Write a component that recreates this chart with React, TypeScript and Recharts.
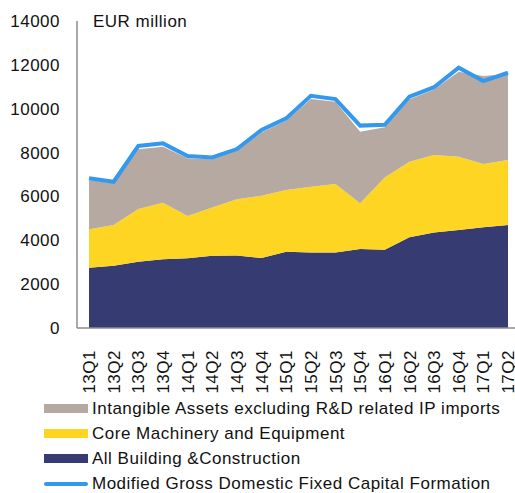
import React from 'react';
import { ComposedChart, Area, Line, XAxis, YAxis } from 'recharts';

const quarters = [
  '13Q1', '13Q2', '13Q3', '13Q4', '14Q1', '14Q2', '14Q3', '14Q4', '15Q1',
  '15Q2', '15Q3', '15Q4', '16Q1', '16Q2', '16Q3', '16Q4', '17Q1', '17Q2',
];
const building = [2750, 2840, 3020, 3130, 3180, 3300, 3310, 3190, 3480, 3440, 3440, 3600, 3570, 4140, 4360, 4470, 4590, 4700];
const machinery = [1750, 1860, 2410, 2580, 1930, 2200, 2560, 2840, 2810, 3000, 3130, 2090, 3290, 3440, 3530, 3340, 2890, 2960];
const intangible = [2250, 1900, 2720, 2560, 2630, 2190, 2220, 2890, 3170, 4000, 3750, 3260, 2290, 2850, 2990, 3880, 4010, 3920];
const modifiedGfcf = [6830, 6670, 8300, 8420, 7840, 7780, 8160, 9030, 9560, 10590, 10440, 9230, 9270, 10550, 10980, 11870, 11260, 11640];
const yTicks = [0, 2000, 4000, 6000, 8000, 10000, 12000, 14000];

const data = quarters.map((q, i) => ({
  q,
  building: building[i],
  machinery: machinery[i],
  intangible: intangible[i],
  total: modifiedGfcf[i],
}));

const FONT = '"Liberation Sans", Arial, sans-serif';
const AXIS = '#8c8c8c';

const legendItems = [
  { name: 'Intangible Assets excluding R&D related IP imports', color: '#b6a9a2', kind: 'area' },
  { name: 'Core Machinery and Equipment', color: '#fed523', kind: 'area' },
  { name: 'All Building &Construction', color: '#363c71', kind: 'area' },
  { name: 'Modified Gross Domestic Fixed Capital Formation', color: '#3399ee', kind: 'line' },
];

function QuarterTick(props: any) {
  const { x, y, payload } = props;
  const ty = y + 14;
  return (
    <text
      x={x}
      y={ty}
      dy="0.36em"
      textAnchor="end"
      transform={`rotate(-90, ${x}, ${ty})`}
      fill="#111"
      fontSize={17}
      letterSpacing={0.5}
      fontFamily={FONT}
    >
      {payload.value}
    </text>
  );
}

export default function App() {
  return (
    <div style={{ position: 'absolute', left: 0, top: 0, width: 515, height: 493, background: '#fff' }}>
      <ComposedChart
        width={515}
        height={493}
        data={data}
        margin={{ top: 21, right: 0, left: 0, bottom: 0 }}
      >
        <XAxis
          dataKey="q"
          interval={0}
          height={165}
          padding={{ left: 12, right: 7 }}
          axisLine={{ stroke: AXIS, strokeWidth: 1.5 }}
          tickLine={false}
          tick={<QuarterTick />}
        />
        <YAxis
          width={77}
          domain={[0, 14000]}
          ticks={yTicks}
          interval={0}
          axisLine={{ stroke: AXIS, strokeWidth: 1.5 }}
          tickLine={false}
          tickSize={0}
          tickMargin={17}
          tick={{ fill: '#111', fontSize: 17, fontFamily: FONT, letterSpacing: 0.5 }}
        />
        <Area
          dataKey="building"
          stackId="a"
          type="linear"
          fill="#363c71"
          fillOpacity={1}
          stroke="none"
          isAnimationActive={false}
        />
        <Area
          dataKey="machinery"
          stackId="a"
          type="linear"
          fill="#fed523"
          fillOpacity={1}
          stroke="none"
          isAnimationActive={false}
        />
        <Area
          dataKey="intangible"
          stackId="a"
          type="linear"
          fill="#b6a9a2"
          fillOpacity={1}
          stroke="none"
          isAnimationActive={false}
        />
        <Line
          dataKey="total"
          type="linear"
          stroke="#3399ee"
          strokeWidth={4}
          dot={false}
          isAnimationActive={false}
        />
      </ComposedChart>
      <svg style={{ position: 'absolute', left: 0, top: 0 }} width={515} height={40}>
        <text x={93} y={27} fontSize={17} letterSpacing={0.5} fontFamily={FONT} fill="#111">
          EUR million
        </text>
      </svg>
      <div style={{ position: 'absolute', left: 44, top: 396, fontFamily: FONT, fontSize: 17, letterSpacing: 0.5, color: '#111' }}>
        {legendItems.map((item) => (
          <div key={item.name} style={{ display: 'flex', alignItems: 'center', height: 25, whiteSpace: 'nowrap' }}>
            <span
              style={{
                display: 'inline-block',
                width: 44,
                height: item.kind === 'line' ? 4 : 9,
                borderRadius: item.kind === 'line' ? 2 : 0,
                background: item.color,
                marginRight: 4,
              }}
            />
            <span>{item.name}</span>
          </div>
        ))}
      </div>
    </div>
  );
}
